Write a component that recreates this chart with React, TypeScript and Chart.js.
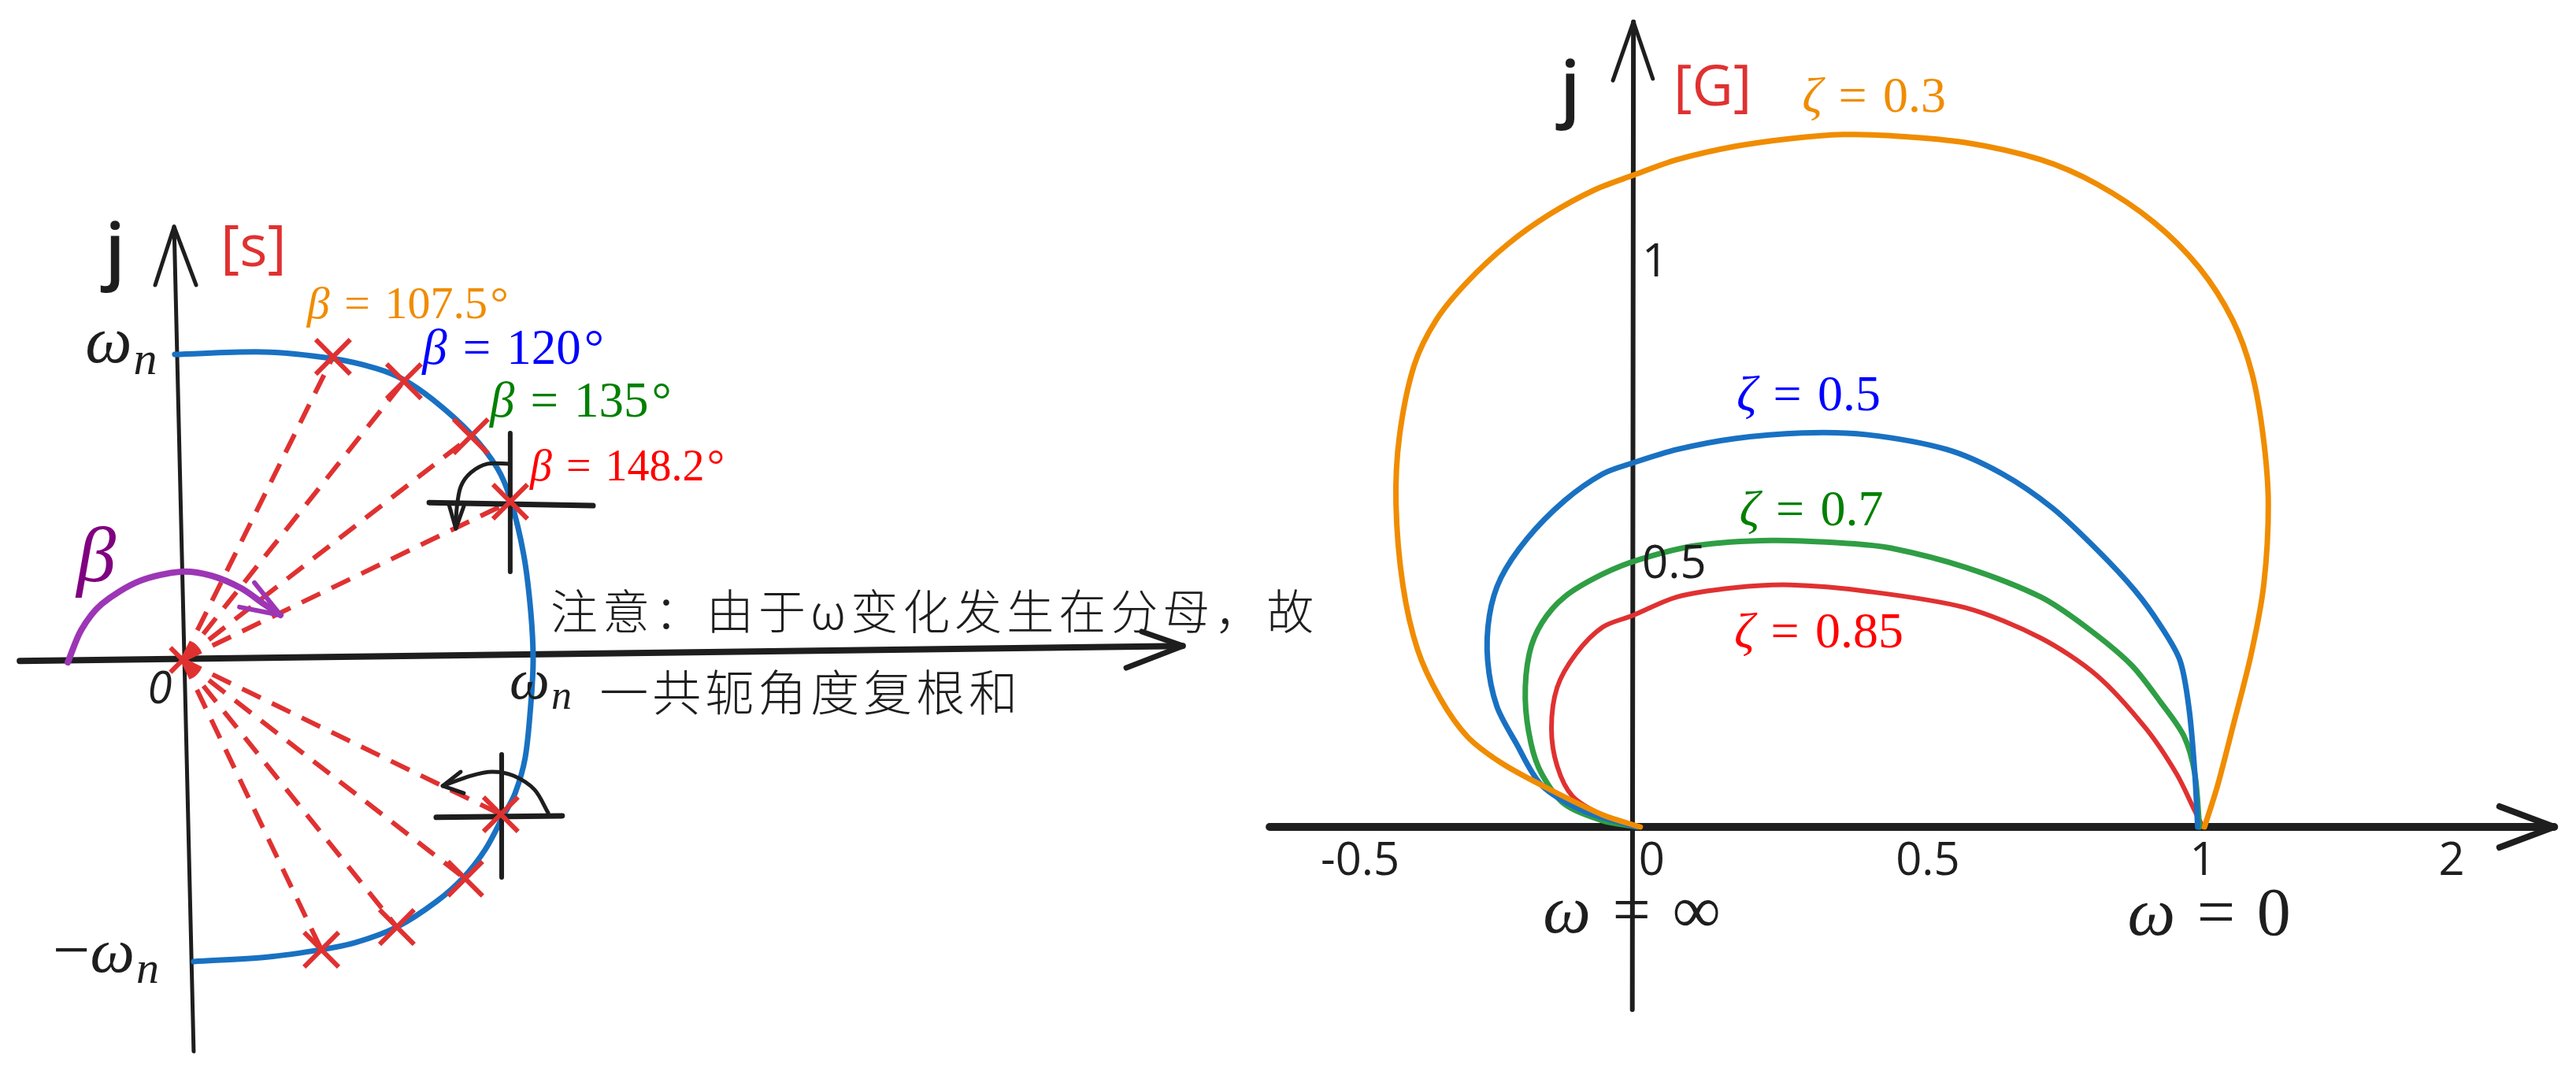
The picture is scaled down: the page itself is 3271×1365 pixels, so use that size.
import React, { useEffect, useRef } from 'react';
import { Chart, registerables } from 'chart.js';
Chart.register(...registerables);

type P = { x: number; y: number };

// ---------------- s-plane (left), units of ωn ----------------
const sLocus: P[] = [
  { x: -0.021, y: 1.0 }, { x: 0.271, y: 1.008 }, { x: 0.492, y: 0.987 }, { x: 0.639, y: 0.954 },
  { x: 0.727, y: 0.918 }, { x: 0.825, y: 0.851 }, { x: 0.948, y: 0.74 }, { x: 1.034, y: 0.629 },
  { x: 1.077, y: 0.528 }, { x: 1.121, y: 0.345 }, { x: 1.144, y: 0.16 }, { x: 1.152, y: 0.0 },
  { x: 1.144, y: -0.149 }, { x: 1.126, y: -0.32 }, { x: 1.093, y: -0.436 }, { x: 1.052, y: -0.515 },
  { x: 0.995, y: -0.621 }, { x: 0.925, y: -0.711 }, { x: 0.835, y: -0.791 }, { x: 0.706, y: -0.874 },
  { x: 0.57, y: -0.925 }, { x: 0.459, y: -0.948 }, { x: 0.281, y: -0.972 }, { x: 0.041, y: -0.987 },
];
const polesUpper: P[] = [
  { x: 0.497, y: 0.992 }, { x: 0.729, y: 0.912 }, { x: 0.948, y: 0.732 }, { x: 1.077, y: 0.518 },
];
const polesLower: P[] = [
  { x: 1.046, y: -0.505 }, { x: 0.93, y: -0.716 }, { x: 0.706, y: -0.874 }, { x: 0.459, y: -0.948 },
];
const sOrigin: P = { x: 0.005, y: 0 };
const upperCrossV: P[] = [{ x: 1.077, y: 0.742 }, { x: 1.077, y: 0.289 }];
const upperCrossH: P[] = [{ x: 0.812, y: 0.515 }, { x: 1.348, y: 0.505 }];
const lowerCrossV: P[] = [{ x: 1.049, y: -0.309 }, { x: 1.049, y: -0.711 }];
const lowerCrossH: P[] = [{ x: 0.835, y: -0.515 }, { x: 1.247, y: -0.51 }];
const upperArc: P[] = [
  { x: 1.072, y: 0.642 }, { x: 1.003, y: 0.642 }, { x: 0.948, y: 0.613 }, { x: 0.915, y: 0.567 },
  { x: 0.902, y: 0.497 }, { x: 0.899, y: 0.43 },
];
const upperArcHead: P[] = [{ x: 0.876, y: 0.51 }, { x: 0.899, y: 0.43 }, { x: 0.925, y: 0.503 }];
const lowerArc: P[] = [
  { x: 1.201, y: -0.5 }, { x: 1.157, y: -0.425 }, { x: 1.088, y: -0.379 }, { x: 1.018, y: -0.366 },
  { x: 0.948, y: -0.379 }, { x: 0.856, y: -0.412 },
];
const lowerArcHead: P[] = [{ x: 0.915, y: -0.366 }, { x: 0.856, y: -0.412 }, { x: 0.925, y: -0.436 }];
const betaArc: P[] = [
  { x: -0.371, y: -0.008 }, { x: -0.327, y: 0.098 }, { x: -0.26, y: 0.183 }, { x: -0.137, y: 0.258 },
  { x: 0.0, y: 0.289 }, { x: 0.098, y: 0.276 }, { x: 0.196, y: 0.235 }, { x: 0.271, y: 0.183 },
  { x: 0.325, y: 0.147 },
];
const betaArcHead: P[] = [{ x: 0.24, y: 0.253 }, { x: 0.325, y: 0.147 }, { x: 0.191, y: 0.173 }];
const sAxisX: P[] = [{ x: -0.528, y: -0.003 }, { x: 3.278, y: 0.046 }];
const sAxisXHead: P[] = [{ x: 3.144, y: 0.093 }, { x: 3.278, y: 0.046 }, { x: 3.093, y: -0.026 }];
const sAxisY: P[] = [{ x: 0.041, y: -1.281 }, { x: -0.023, y: 1.418 }];
const sAxisYHead: P[] = [{ x: -0.085, y: 1.227 }, { x: -0.023, y: 1.418 }, { x: 0.049, y: 1.227 }];
const betaValues = ['107.5', '120', '135', '148.2'];
const noteLine1 = '注意：由于ω变化发生在分母，故';
const noteLine2 = '一共轭角度复根和';

// ---------------- G-plane (right) ----------------
const gZeta03: P[] = [
  { x: 0.015, y: 0 }, { x: -0.051, y: 0.021 }, { x: -0.158, y: 0.073 }, { x: -0.23, y: 0.113 },
  { x: -0.289, y: 0.159 }, { x: -0.336, y: 0.225 }, { x: -0.376, y: 0.311 }, { x: -0.402, y: 0.425 },
  { x: -0.414, y: 0.567 }, { x: -0.408, y: 0.686 }, { x: -0.382, y: 0.811 }, { x: -0.343, y: 0.891 },
  { x: -0.289, y: 0.957 }, { x: -0.217, y: 1.024 }, { x: -0.144, y: 1.076 }, { x: -0.065, y: 1.119 },
  { x: 0.001, y: 1.144 }, { x: 0.08, y: 1.172 }, { x: 0.18, y: 1.195 }, { x: 0.279, y: 1.209 },
  { x: 0.372, y: 1.216 }, { x: 0.454, y: 1.214 }, { x: 0.586, y: 1.202 }, { x: 0.718, y: 1.172 },
  { x: 0.817, y: 1.129 }, { x: 0.917, y: 1.062 }, { x: 0.996, y: 0.983 }, { x: 1.055, y: 0.891 },
  { x: 1.089, y: 0.798 }, { x: 1.109, y: 0.686 }, { x: 1.118, y: 0.567 }, { x: 1.11, y: 0.425 },
  { x: 1.088, y: 0.304 }, { x: 1.055, y: 0.173 }, { x: 1.029, y: 0.073 }, { x: 1.006, y: 0 },
];
const gZeta05: P[] = [
  { x: 0.008, y: 0 }, { x: -0.084, y: 0.028 }, { x: -0.158, y: 0.073 }, { x: -0.203, y: 0.147 },
  { x: -0.237, y: 0.212 }, { x: -0.253, y: 0.292 }, { x: -0.25, y: 0.371 }, { x: -0.23, y: 0.437 },
  { x: -0.184, y: 0.506 }, { x: -0.118, y: 0.573 }, { x: -0.051, y: 0.62 }, { x: 0.001, y: 0.639 },
  { x: 0.08, y: 0.663 }, { x: 0.18, y: 0.682 }, { x: 0.299, y: 0.692 }, { x: 0.412, y: 0.689 },
  { x: 0.553, y: 0.663 }, { x: 0.651, y: 0.62 }, { x: 0.739, y: 0.56 }, { x: 0.817, y: 0.487 },
  { x: 0.884, y: 0.415 }, { x: 0.929, y: 0.353 }, { x: 0.963, y: 0.292 }, { x: 0.979, y: 0.206 },
  { x: 0.989, y: 0.093 }, { x: 0.994, y: 0 },
];
const gZeta07: P[] = [
  { x: 0.01, y: 0 }, { x: -0.051, y: 0.011 }, { x: -0.118, y: 0.04 }, { x: -0.158, y: 0.093 },
  { x: -0.177, y: 0.147 }, { x: -0.187, y: 0.225 }, { x: -0.18, y: 0.304 }, { x: -0.158, y: 0.358 },
  { x: -0.118, y: 0.404 }, { x: -0.051, y: 0.444 }, { x: 0.015, y: 0.47 }, { x: 0.113, y: 0.494 },
  { x: 0.246, y: 0.503 }, { x: 0.379, y: 0.498 }, { x: 0.454, y: 0.49 }, { x: 0.586, y: 0.456 },
  { x: 0.718, y: 0.404 }, { x: 0.798, y: 0.351 }, { x: 0.877, y: 0.285 }, { x: 0.929, y: 0.219 },
  { x: 0.97, y: 0.159 }, { x: 0.989, y: 0.093 }, { x: 0.997, y: 0 },
];
const gZeta085: P[] = [
  { x: 0.015, y: 0 }, { x: -0.051, y: 0.021 }, { x: -0.104, y: 0.054 }, { x: -0.131, y: 0.107 },
  { x: -0.141, y: 0.173 }, { x: -0.131, y: 0.245 }, { x: -0.098, y: 0.304 }, { x: -0.051, y: 0.351 },
  { x: 0.001, y: 0.371 }, { x: 0.08, y: 0.404 }, { x: 0.18, y: 0.42 }, { x: 0.279, y: 0.425 },
  { x: 0.412, y: 0.414 }, { x: 0.586, y: 0.385 }, { x: 0.718, y: 0.332 }, { x: 0.817, y: 0.266 },
  { x: 0.903, y: 0.173 }, { x: 0.957, y: 0.093 }, { x: 0.989, y: 0.028 }, { x: 1.003, y: 0 },
];
const zetaValues = ['0.3', '0.5', '0.7', '0.85'];
const gAxisX: P[] = [{ x: -0.636, y: 0 }, { x: 1.62, y: 0 }];
const gAxisXHead: P[] = [{ x: 1.524, y: 0.036 }, { x: 1.62, y: 0 }, { x: 1.524, y: -0.036 }];
const gAxisY: P[] = [{ x: 0.001, y: -0.321 }, { x: 0.003, y: 1.414 }];
const gAxisYHead: P[] = [{ x: -0.033, y: 1.311 }, { x: 0.003, y: 1.414 }, { x: 0.037, y: 1.314 }];
const xTickPositions = [-0.477, 0.035, 0.52, 1.003, 1.44];
const xTickLabels = ['-0.5', '0', '0.5', '1', '2'];
const yTickPositions = [0.46, 0.99];
const yTickLabels = ['0.5', '1'];

// ---------------- styles ----------------
const SERIF = '"Liberation Serif", "DejaVu Serif", serif';
const HAND = '"Open Sans", "DejaVu Sans", sans-serif';
const CJK = '"Noto Sans CJK SC", sans-serif';
const INK = '#1e1e1e';
const RED = '#e03131';
const curveColors = ['#f08c00', '#1971c2', '#2f9e44', '#e03131'];
const labelColors = ['#f08c00', '#0000ff', '#008000', '#ff0000'];

type Part = { t: string; f: string; c: string; dx?: number; dy?: number };
type Label = { x: number; y: number; align?: 'left' | 'center'; base?: CanvasTextBaseline; parts: Part[]; ls?: number };

function line(data: P[], color: string, width: number, order: number, extra: any = {}) {
  return {
    data, showLine: true, borderColor: color, borderWidth: width, pointRadius: 0,
    tension: 0.3, fill: false, borderCapStyle: 'round', borderJoinStyle: 'round', order, ...extra,
  };
}

function eq(sym: string, value: string, color: string, size: number, suffix = ''): Part[] {
  const parts: Part[] = [
    { t: sym, f: `italic ${size}px ${SERIF}`, c: color },
    { t: '=', f: `${size}px ${SERIF}`, c: color, dx: size * 0.32 },
    { t: value, f: `${size}px ${SERIF}`, c: color, dx: size * 0.32 },
  ];
  if (suffix) parts.push({ t: suffix, f: `${size}px ${SERIF}`, c: color, dx: size * 0.06 });
  return parts;
}

function labelPlugin(labels: Label[]) {
  return {
    id: 'labels',
    afterDatasetsDraw(chart: any) {
      const ctx: CanvasRenderingContext2D = chart.ctx;
      const sx = chart.scales.x, sy = chart.scales.y;
      ctx.save();
      for (const l of labels) {
        const px = sx.getPixelForValue(l.x), py = sy.getPixelForValue(l.y);
        ctx.textBaseline = l.base || 'alphabetic';
        ctx.textAlign = 'left';
        (ctx as any).letterSpacing = `${l.ls || 0}px`;
        const widths = l.parts.map((p) => { ctx.font = p.f; return ctx.measureText(p.t).width + (p.dx || 0); });
        const total = widths.reduce((a, b) => a + b, 0);
        let cx = l.align === 'center' ? px - total / 2 : px;
        l.parts.forEach((p, i) => {
          ctx.font = p.f; ctx.fillStyle = p.c;
          ctx.fillText(p.t, cx + (p.dx || 0), py + (p.dy || 0));
          cx += widths[i];
        });
      }
      ctx.restore();
    },
  };
}

function makeChart(canvas: HTMLCanvasElement, b: number[], datasets: any[], labels: Label[]) {
  return new Chart(canvas, {
    type: 'scatter',
    data: { datasets },
    options: {
      responsive: false, animation: false, events: [], devicePixelRatio: 1,
      layout: { padding: 0, autoPadding: false },
      scales: {
        x: { type: 'linear', display: false, min: b[0], max: b[1] },
        y: { type: 'linear', display: false, min: b[2], max: b[3] },
      },
      plugins: { legend: { display: false }, tooltip: { enabled: false } },
    } as any,
    plugins: [labelPlugin(labels)],
  } as any);
}

export default function App() {
  const leftRef = useRef<HTMLCanvasElement>(null);
  const rightRef = useRef<HTMLCanvasElement>(null);

  useEffect(() => {
    document.body.style.margin = '0';
    document.body.style.overflow = 'hidden';

    // ---- left chart ----
    const rays = [...polesUpper, ...polesLower].map((p) =>
      line([sOrigin, p], RED, 6, 4, { tension: 0, borderDash: [26, 16], borderCapStyle: 'butt' }));
    const leftSets = [
      { data: [...polesUpper, ...polesLower], showLine: false, pointStyle: 'crossRot', pointRadius: 31, borderWidth: 6, borderColor: RED, order: 1 },
      { data: [sOrigin], showLine: false, pointStyle: 'crossRot', pointRadius: 22, borderWidth: 6, borderColor: RED, order: 1 },
      line(upperCrossV, INK, 6, 2, { tension: 0 }),
      line(upperCrossH, INK, 7, 2, { tension: 0 }),
      line(lowerCrossV, INK, 6, 2, { tension: 0 }),
      line(lowerCrossH, INK, 7, 2, { tension: 0 }),
      line(upperArc, INK, 5, 2),
      line(upperArcHead, INK, 5, 2, { tension: 0 }),
      line(lowerArc, INK, 5, 2),
      line(lowerArcHead, INK, 5, 2, { tension: 0 }),
      line(betaArc, '#9c36b5', 8, 2),
      line(betaArcHead, '#9c36b5', 6, 2, { tension: 0 }),
      line(sLocus, '#1971c2', 7, 3, { tension: 0.3 }),
      ...rays,
      line(sAxisX, INK, 8, 5, { tension: 0 }),
      line(sAxisXHead, INK, 7, 5, { tension: 0 }),
      line(sAxisY, INK, 5, 5, { tension: 0 }),
      line(sAxisYHead, INK, 5, 5, { tension: 0 }),
    ];
    const betaSizes = [58, 63, 63, 56];
    const betaAnchors: P[] = [{ x: 0.412, y: 1.119 }, { x: 0.789, y: 0.969 }, { x: 1.01, y: 0.796 }, { x: 1.142, y: 0.588 }];
    const leftLabels: Label[] = [
      { x: -0.216, y: 1.325, align: 'center', base: 'middle', parts: [{ t: 'j', f: `600 92px ${HAND}`, c: INK }] },
      { x: 0.237, y: 1.343, align: 'center', base: 'middle', parts: [{ t: '[s]', f: `74px ${HAND}`, c: RED }] },
      { x: -0.314, y: 0.974, parts: [
        { t: 'ω', f: `italic 84px ${SERIF}`, c: INK },
        { t: 'n', f: `italic 60px ${SERIF}`, c: INK, dx: 2, dy: 15 }] },
      { x: -0.42, y: -1.021, parts: [
        { t: '−', f: `84px ${SERIF}`, c: INK },
        { t: 'ω', f: `italic 80px ${SERIF}`, c: INK },
        { t: 'n', f: `italic 58px ${SERIF}`, c: INK, dx: 2, dy: 14 }] },
      { x: -0.07, y: -0.101, align: 'center', base: 'middle', parts: [{ t: '0', f: `italic 56px ${HAND}`, c: INK }] },
      { x: -0.278, y: 0.325, align: 'center', base: 'middle', parts: [{ t: 'β', f: `italic 100px ${SERIF}`, c: '#800080' }] },
      ...betaValues.map((v, i) => ({ x: betaAnchors[i].x, y: betaAnchors[i].y, parts: eq('β', v, labelColors[i], betaSizes[i], '°') })),
      { x: 1.209, y: 0.16, base: 'middle', ls: 6, parts: [{ t: noteLine1, f: `300 60px ${CJK}`, c: INK }] },
      { x: 1.075, y: -0.126, parts: [
        { t: 'ω', f: `italic 72px ${SERIF}`, c: INK },
        { t: 'n', f: `italic 52px ${SERIF}`, c: INK, dx: 2, dy: 13 }] },
      { x: 1.369, y: -0.108, base: 'middle', ls: 5, parts: [{ t: noteLine2, f: `300 62px ${CJK}`, c: INK }] },
    ];
    const c1 = makeChart(leftRef.current!, [-0.5928, 3.8402, -1.3582, 2.1598], leftSets, leftLabels);

    // ---- right chart ----
    const rightSets = [
      line(gZeta03, curveColors[0], 7, 1),
      line(gZeta05, curveColors[1], 7, 2),
      line(gZeta07, curveColors[2], 7, 3),
      line(gZeta085, curveColors[3], 6, 4),
      line(gAxisX, INK, 10, 6, { tension: 0 }),
      line(gAxisXHead, INK, 8, 6, { tension: 0 }),
      line(gAxisY, INK, 6, 6, { tension: 0 }),
      line(gAxisYHead, INK, 5, 6, { tension: 0 }),
    ];
    const zetaAnchors: P[] = [{ x: 0.299, y: 1.256 }, { x: 0.184, y: 0.732 }, { x: 0.189, y: 0.53 }, { x: 0.18, y: 0.315 }];
    const rightLabels: Label[] = [
      { x: -0.108, y: 1.289, align: 'center', base: 'middle', parts: [{ t: 'j', f: `600 92px ${HAND}`, c: INK }] },
      { x: 0.142, y: 1.296, align: 'center', base: 'middle', parts: [{ t: '[G]', f: `72px ${HAND}`, c: RED }] },
      ...zetaValues.map((v, i) => ({ x: zetaAnchors[i].x, y: zetaAnchors[i].y, parts: eq('ζ', v, labelColors[i], 64) })),
      { x: 0.0, y: -0.185, align: 'center', parts: eq('ω', '∞', INK, 86) },
      { x: 1.014, y: -0.189, align: 'center', parts: eq('ω', '0', INK, 86) },
      ...xTickLabels.map((t, i) => ({ x: xTickPositions[i], y: -0.062, align: 'center' as const, base: 'middle' as CanvasTextBaseline, parts: [{ t, f: `58px ${HAND}`, c: INK }] })),
      ...yTickLabels.map((t, i) => ({ x: 0.018, y: yTickPositions[i], base: 'middle' as CanvasTextBaseline, parts: [{ t, f: `58px ${HAND}`, c: INK }] })),
    ];
    const c2 = makeChart(rightRef.current!, [-0.6528, 1.6584, -0.4357, 1.4523], rightSets, rightLabels);

    const fonts = (document as any).fonts;
    if (fonts && fonts.load) {
      Promise.all([
        fonts.load(`60px ${CJK}`, '注意'),
        fonts.load(`300 60px ${CJK}`, '注意'),
        fonts.load(`60px ${HAND}`, '0'),
        fonts.load(`600 60px ${HAND}`, 'j'),
        fonts.load(`italic 60px ${SERIF}`, 'β'),
        fonts.load(`60px ${SERIF}`, '0'),
      ]).then(() => { c1.update(); c2.update(); }).catch(() => {});
    }
    return () => { c1.destroy(); c2.destroy(); };
  }, []);

  return (
    <div style={{ position: 'relative', width: 3271, height: 1365, background: '#ffffff', overflow: 'hidden' }}>
      <canvas ref={leftRef} width={1720} height={1365} style={{ position: 'absolute', left: 0, top: 0, width: 1720, height: 1365 }} />
      <canvas ref={rightRef} width={1671} height={1365} style={{ position: 'absolute', left: 1600, top: 0, width: 1671, height: 1365 }} />
    </div>
  );
}
